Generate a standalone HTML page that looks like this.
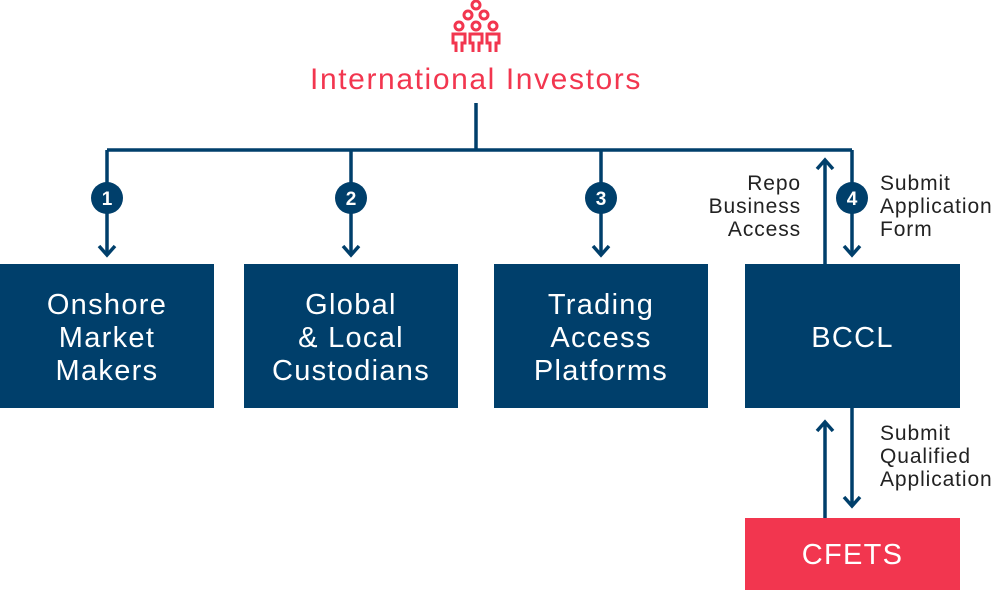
<!DOCTYPE html>
<html><head><style>
body{margin:0;width:1000px;height:590px;background:#fff;position:relative;overflow:hidden;font-family:"Liberation Sans",sans-serif}
.box{position:absolute;background:#003f6b;color:#fff;font-size:29px;line-height:33px;letter-spacing:1.3px;text-align:center;display:flex;align-items:center;justify-content:center;box-sizing:border-box;padding-top:5px}
.lbl{position:absolute;font-size:21px;line-height:23px;letter-spacing:0.9px;color:#222}
</style></head><body>
<svg width="1000" height="590" style="position:absolute;left:0;top:0">
<g fill="none" stroke="#f2364f" stroke-width="3">
<circle cx="476" cy="5" r="4"/><circle cx="468" cy="15" r="4"/><circle cx="484" cy="15" r="4"/>
<circle cx="459" cy="26" r="4"/><circle cx="476" cy="26" r="4"/><circle cx="493" cy="26" r="4"/>
<path d="M456 52V43h-3v-9h12v9h-3v9M473 52V43h-3v-9h12v9h-3v9M490 52V43h-3v-9h12v9h-3v9"/>
</g>
<g stroke="#003f6b" stroke-width="3.5" fill="none">
<path d="M476 103V150M107 150H852"/>
<path d="M107 150V255M351 150V255M601 150V255M852 150V255"/>
<path d="M99 246l8 9 8-9M343 246l8 9 8-9M593 246l8 9 8-9M844 246l8 9 8-9"/>
<path d="M825 264V160M817 169l8-9 8 9"/>
<path d="M825 518V422M817 431l8-9 8 9"/>
<path d="M852 408V506M844 497l8 9 8-9"/>
</g>
<g fill="#003f6b"><circle cx="107" cy="198" r="16"/><circle cx="351" cy="198" r="16"/><circle cx="601" cy="198" r="16"/><circle cx="852" cy="198" r="16"/></g>
<g fill="#fff" font-family="Liberation Sans" font-weight="bold" font-size="19" text-anchor="middle">
<text x="107" y="205">1</text><text x="351" y="205">2</text><text x="601" y="205">3</text><text x="852" y="205">4</text></g>
</svg>
<div style="position:absolute;left:226px;width:500px;top:62px;text-align:center;color:#f2364f;font-size:30px;line-height:36px;letter-spacing:1.6px">International Investors</div>
<div class="box" style="left:0;top:264px;width:214px;height:144px">Onshore<br>Market<br>Makers</div>
<div class="box" style="left:244px;top:264px;width:214px;height:144px">Global<br>&amp; Local<br>Custodians</div>
<div class="box" style="left:494px;top:264px;width:214px;height:144px">Trading<br>Access<br>Platforms</div>
<div class="box" style="left:745px;top:264px;width:215px;height:144px">BCCL</div>
<div class="box" style="left:745px;top:518px;width:215px;height:72px;background:#f2364f;padding-top:2px">CFETS</div>
<div class="lbl" style="left:660px;width:141px;top:172px;text-align:right">Repo<br>Business<br>Access</div>
<div class="lbl" style="left:880px;top:172px">Submit<br>Application<br>Form</div>
<div class="lbl" style="left:880px;top:422px">Submit<br>Qualified<br>Application</div>
</body></html>
